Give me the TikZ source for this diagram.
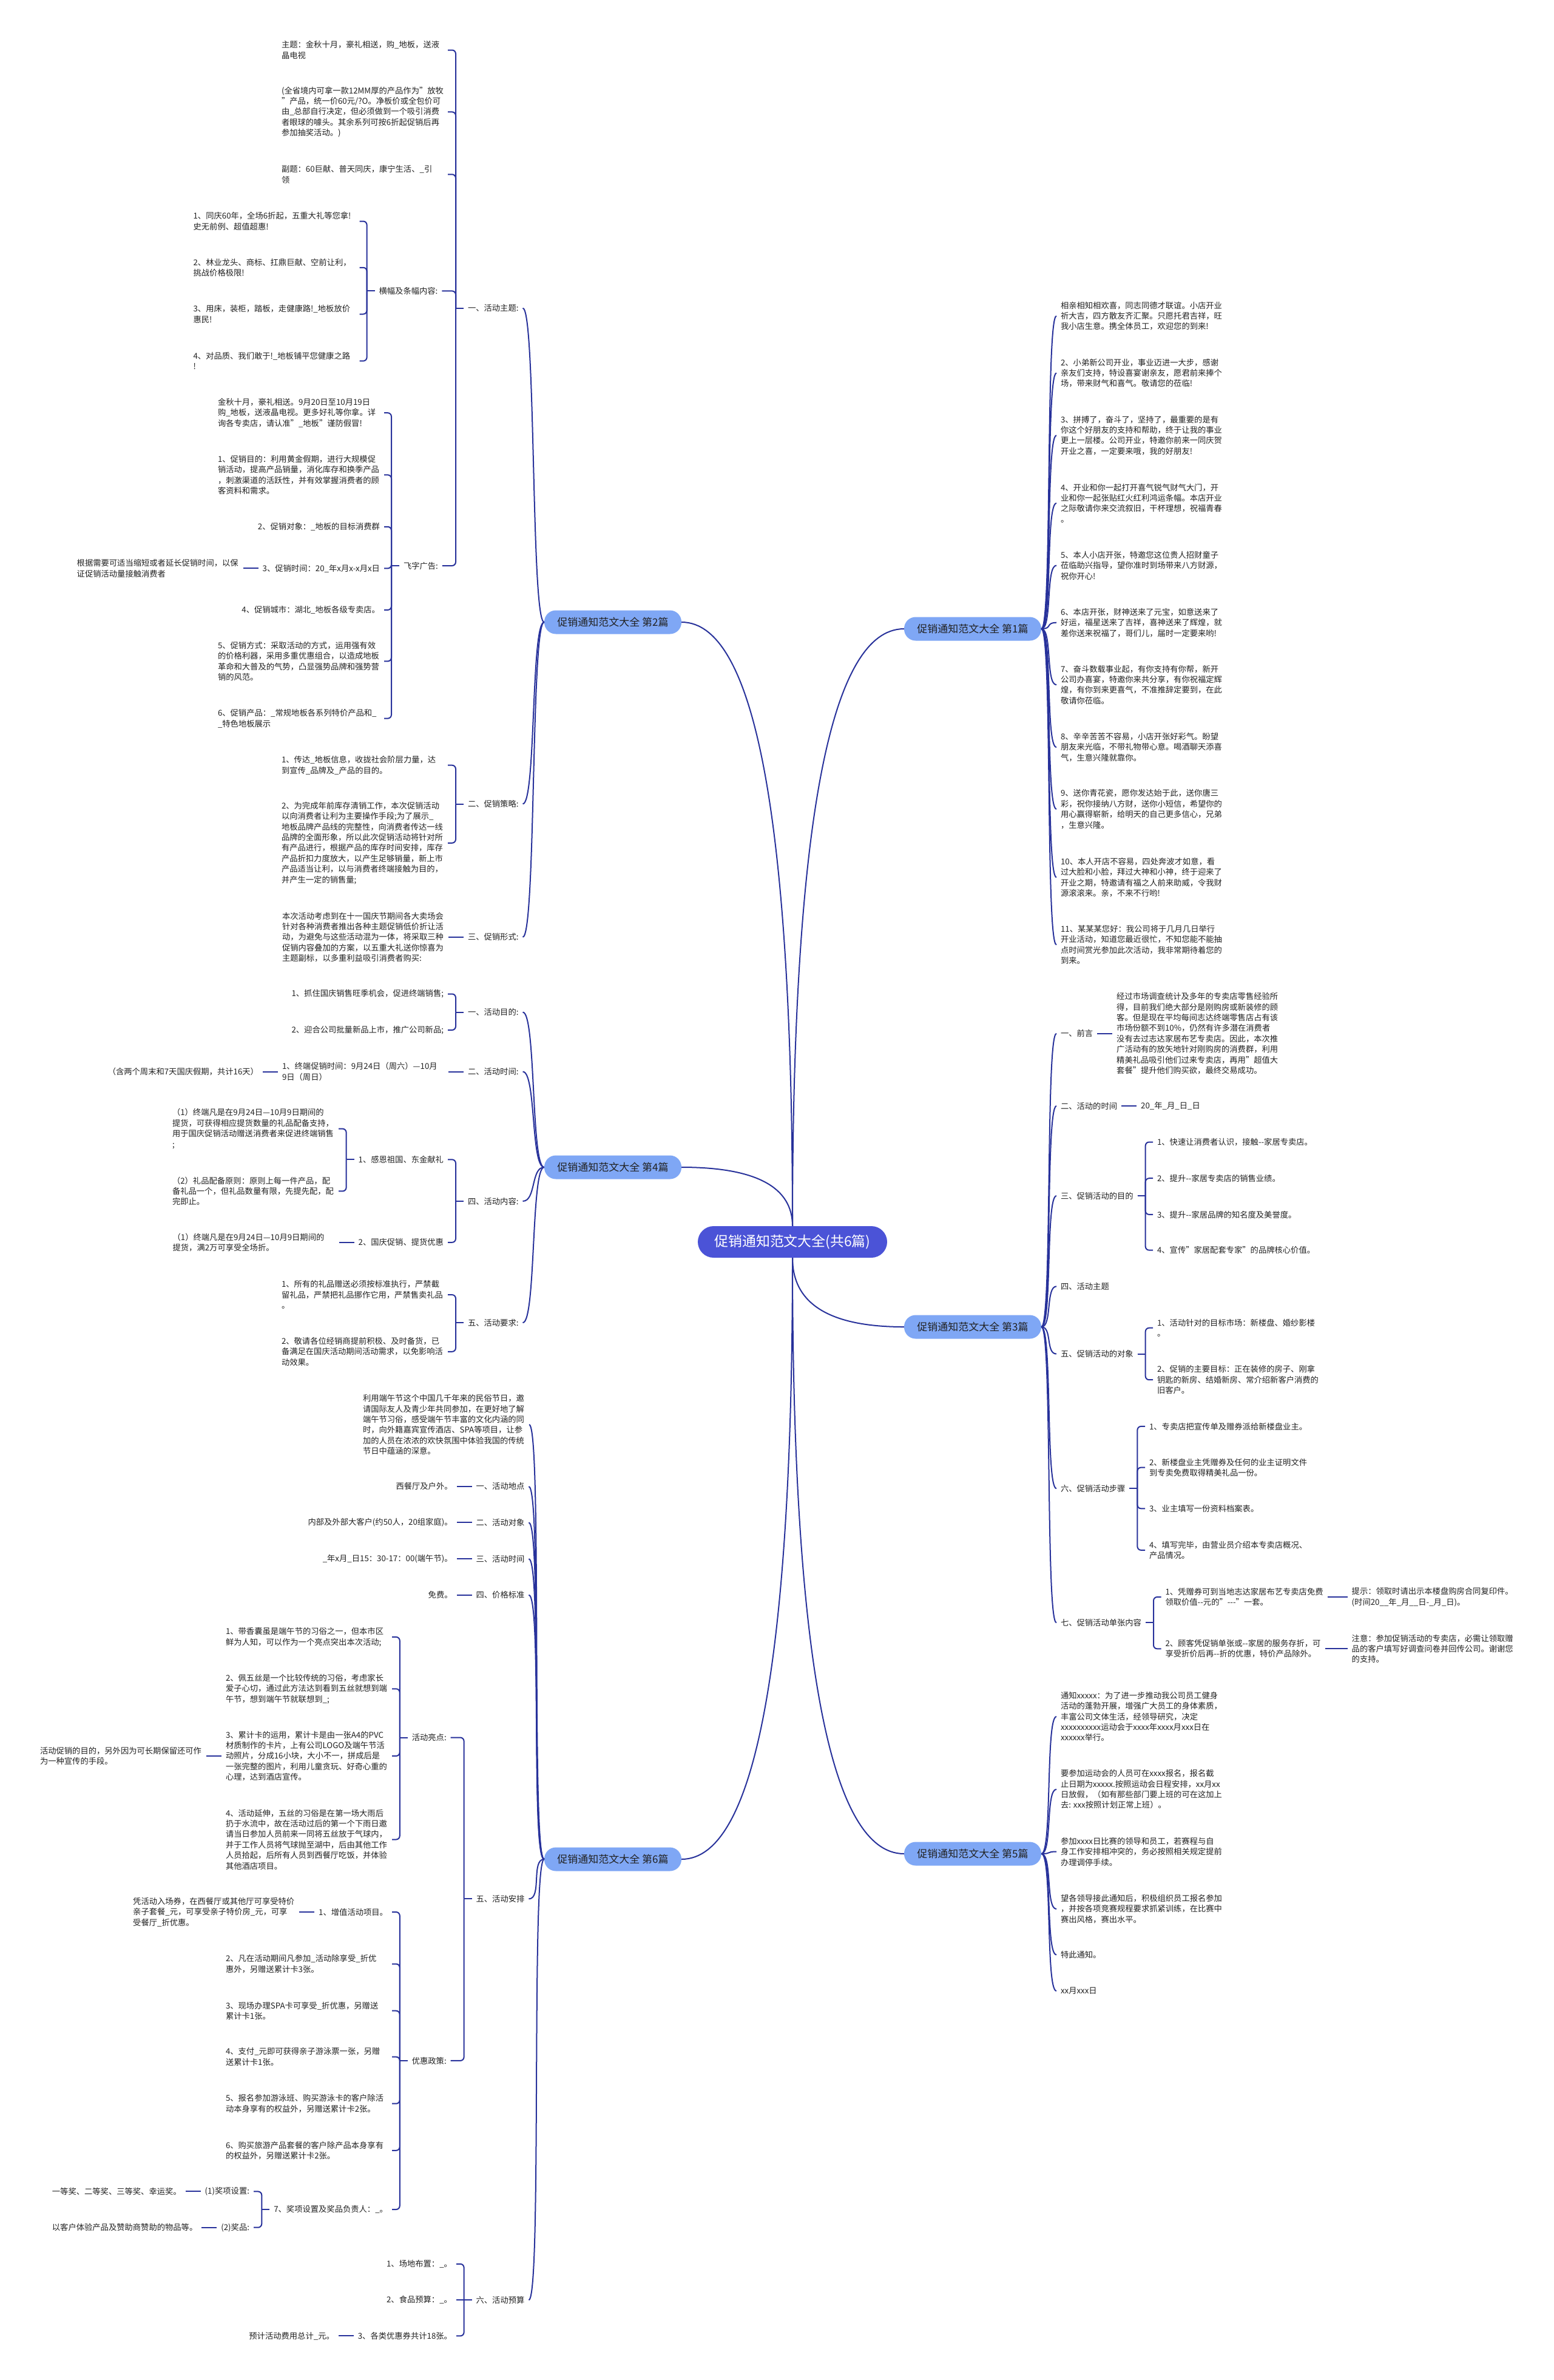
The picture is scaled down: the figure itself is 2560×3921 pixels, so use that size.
\documentclass[tikz,border=0pt]{standalone}
\usepackage{fontspec}
\setmainfont{Noto Sans CJK SC}
\usetikzlibrary{calc}
\definecolor{lnc}{HTML}{28329B}
\definecolor{rootc}{HTML}{4B53D7}
\definecolor{brc}{HTML}{7FA7F5}
\definecolor{txc}{HTML}{222222}
\tikzset{
  conn/.style={draw=lnc, line width=2pt},
  tx/.style={font=\fontsize{13.3pt}{17.4pt}\selectfont, text=txc, inner sep=0pt, outer xsep=7pt, outer ysep=0pt, align=left},
  txw/.style={tx, text width=267pt},
  rootn/.style={fill=rootc, text=white, rounded corners=26pt, minimum width=312pt, minimum height=52pt, inner sep=0pt, font=\fontsize{22.9pt}{27pt}\selectfont},
  brn/.style={fill=brc, text=txc, rounded corners=19pt, minimum width=226pt, minimum height=39pt, inner sep=0pt, font=\fontsize{17pt}{20pt}\selectfont}
}
\newcommand\lbk[2]{\draw[conn] (#1.west) -- ++(-13,0); \draw[conn,rounded corners=6pt] ([xshift=-13pt]#1.west) |- (#2.east);}
\newcommand\rbk[2]{\draw[conn] (#1.east) -- ++(13,0); \draw[conn,rounded corners=6pt] ([xshift=13pt]#1.east) |- (#2.west);}
\newcommand\lcv[2]{\draw[conn] (#1.west) .. controls +(-22,0) and +(22,0) .. (#2.east);}
\newcommand\rcv[2]{\draw[conn] (#1.east) .. controls +(18,0) and +(-18,0) .. (#2.west);}
\newcommand\lstr[2]{\draw[conn] (#1.west) -- (#2.east);}
\newcommand\rstr[2]{\draw[conn] (#1.east) -- (#2.west);}
\newcommand\ccv[2]{\coordinate (kk) at (#1 |- #2); \draw[conn] (#1) .. controls ($(#1)!0.667!(kk)$) and ($(#2)!0.667!(kk)$) .. (#2);}
\begin{document}
\begin{tikzpicture}[x=1pt,y=-1pt]
\fill[white] (0,0) rectangle (2560,3921);
\useasboundingbox (0,0) rectangle (2560,3921);

% root and branches
\node[rootn] (root) at (1306,2046) {促销通知范文大全(共6篇)};
\node[brn] (b2) at (1010,1025) {促销通知范文大全 第2篇};
\node[brn] (b4) at (1010,1923) {促销通知范文大全 第4篇};
\node[brn] (b6) at (1010,3063) {促销通知范文大全 第6篇};
\node[brn] (b1) at (1603,1036) {促销通知范文大全 第1篇};
\node[brn] (b3) at (1603,2186) {促销通知范文大全 第3篇};
\node[brn] (b5) at (1603,3054) {促销通知范文大全 第5篇};
\ccv{root.north}{b2.east}
\ccv{root.north}{b4.east}
\ccv{root.north}{b1.west}
\ccv{root.south}{b6.east}
\ccv{root.south}{b3.west}
\ccv{root.south}{b5.west}

% ================= B2 =================
\node[tx,anchor=west] (b2a) at (764,507.6) {一、活动主题:};
\node[txw,anchor=east] (b2a1) at (738,82.5) {主题：金秋十月，豪礼相送，购\_地板，送液\\晶电视};
\node[txw,anchor=east] (b2a2) at (738,184.4) {(全省境内可拿一款12MM厚的产品作为"放牧\\"产品，统一价60元/?O。净板价或全包价可\\由\_总部自行决定，但必须做到一个吸引消费\\者眼球的噱头。其余系列可按6折起促销后再\\参加抽奖活动。)};
\node[txw,anchor=east] (b2a3) at (738,287.3) {副题：60巨献、普天同庆，康宁生活、\_引\\领};
\node[tx,anchor=west] (b2a4) at (617.6,479.4) {横幅及条幅内容:};
\node[tx,anchor=west] (b2a5) at (658,932) {飞字广告:};
\lbk{b2a}{b2a1}\lbk{b2a}{b2a2}\lbk{b2a}{b2a3}\lbk{b2a}{b2a4}\lbk{b2a}{b2a5}
\node[txw,anchor=east] (h1) at (592.6,364.5) {1、同庆60年，全场6折起，五重大礼等您拿!\\史无前例、超值超惠!};
\node[txw,anchor=east] (h2) at (592.6,440.8) {2、林业龙头、商标、扛鼎巨献、空前让利，\\挑战价格极限!};
\node[txw,anchor=east] (h3) at (592.6,517.5) {3、用床，装柜，踏板，走健康路!\_地板放价\\惠民!};
\node[txw,anchor=east] (h4) at (592.6,594.7) {4、对品质、我们敢于!\_地板铺平您健康之路\\!};
\lbk{b2a4}{h1}\lbk{b2a4}{h2}\lbk{b2a4}{h3}\lbk{b2a4}{h4}
\node[txw,anchor=east] (f1) at (633,680.2) {金秋十月，豪礼相送。9月20日至10月19日\\购\_地板，送液晶电视。更多好礼等你拿。详\\询各专卖店，请认准"\_地板"谨防假冒!};
\node[txw,anchor=east] (f2) at (633,782.4) {1、促销目的：利用黄金假期，进行大规模促\\销活动，提高产品销量，消化库存和换季产品\\，刺激渠道的活跃性，并有效掌握消费者的顾\\客资料和需求。};
\node[tx,anchor=east] (f3) at (633,867.8) {2、促销对象：\_地板的目标消费群};
\node[tx,anchor=east] (f4) at (633,936.4) {3、促销时间：20\_年x月x-x月x日};
\node[tx,anchor=east] (f5) at (633,1004.9) {4、促销城市：湖北\_地板各级专卖店。};
\node[txw,anchor=east] (f6) at (633,1089.4) {5、促销方式：采取活动的方式，运用强有效\\的价格利器，采用多重优惠组合，以造成地板\\革命和大普及的气势，凸显强势品牌和强势营\\销的风范。};
\node[txw,anchor=east] (f7) at (633,1183.6) {6、促销产品：\_常规地板各系列特价产品和\_\\\_特色地板展示};
\lbk{b2a5}{f1}\lbk{b2a5}{f2}\lbk{b2a5}{f3}\lbk{b2a5}{f4}\lbk{b2a5}{f5}\lbk{b2a5}{f6}\lbk{b2a5}{f7}
\node[txw,anchor=east] (f4c) at ([xshift=-25pt]f4.west) {根据需要可适当缩短或者延长促销时间，以保\\证促销活动量接触消费者};
\lstr{f4}{f4c}
\node[tx,anchor=west] (b2b) at (764,1324.5) {二、促销策略:};
\node[txw,anchor=east] (b2b1) at (738,1260.7) {1、传达\_地板信息，收拢社会阶层力量，达\\到宣传\_品牌及\_产品的目的。};
\node[txw,anchor=east] (b2b2) at (738,1388.8) {2、为完成年前库存清销工作，本次促销活动\\以向消费者让利为主要操作手段;为了展示\_\\地板品牌产品线的完整性，向消费者传达一线\\品牌的全面形象，所以此次促销活动将针对所\\有产品进行，根据产品的库存时间安排，库存\\产品折扣力度放大，以产生足够销量，新上市\\产品适当让利，以与消费者终端接触为目的，\\并产生一定的销售量;};
\lbk{b2b}{b2b1}\lbk{b2b}{b2b2}
\node[tx,anchor=west] (b2c) at (764,1543.9) {三、促销形式:};
\node[txw,anchor=east] (b2c1) at ([xshift=-25pt]b2c.west) {本次活动考虑到在十一国庆节期间各大卖场会\\针对各种消费者推出各种主题促销低价折让活\\动，为避免与这些活动混为一体，将采取三种\\促销内容叠加的方案，以五重大礼送你惊喜为\\主题副标，以多重利益吸引消费者购买:};
\lstr{b2c}{b2c1}
\lcv{b2}{b2a}\lcv{b2}{b2b}\lcv{b2}{b2c}

% ================= B4 =================
\node[tx,anchor=west] (b4a) at (764,1667.5) {一、活动目的:};
\node[tx,anchor=east] (b4a1) at (738,1637.5) {1、抓住国庆销售旺季机会，促进终端销售;};
\node[tx,anchor=east] (b4a2) at (738,1697) {2、迎合公司批量新品上市，推广公司新品;};
\lbk{b4a}{b4a1}\lbk{b4a}{b4a2}
\node[tx,anchor=west] (b4b) at (764,1765.5) {二、活动时间:};
\node[txw,anchor=east] (b4b1) at ([xshift=-25pt]b4b.west) {1、终端促销时间：9月24日（周六）—10月\\9日（周日）};
\lstr{b4b}{b4b1}
\node[tx,anchor=east] (b4b2) at ([xshift=-25pt]b4b1.west) {（含两个周末和7天国庆假期，共计16天）};
\lstr{b4b1}{b4b2}
\node[tx,anchor=west] (b4c) at (764,1978.9) {四、活动内容:};
\node[tx,anchor=east] (b4c1) at (738,1910.3) {1、感恩祖国、东金献礼};
\node[tx,anchor=east] (b4c2) at (738,2046.8) {2、国庆促销、提货优惠};
\lbk{b4c}{b4c1}\lbk{b4c}{b4c2}
\node[txw,anchor=east] (g1) at (558,1859.6) {（1）终端凡是在9月24日—10月9日期间的\\提货，可获得相应提货数量的礼品配备支持，\\用于国庆促销活动赠送消费者来促进终端销售\\;};
\node[txw,anchor=east] (g2) at (558,1962.4) {（2）礼品配备原则：原则上每一件产品，配\\备礼品一个，但礼品数量有限，先提先配，配\\完即止。};
\lbk{b4c1}{g1}\lbk{b4c1}{g2}
\node[txw,anchor=east] (g3) at ([xshift=-25pt]b4c2.west) {（1）终端凡是在9月24日—10月9日期间的\\提货，满2万可享受全场折。};
\lstr{b4c2}{g3}
\node[tx,anchor=west] (b4d) at (764,2179.1) {五、活动要求:};
\node[txw,anchor=east] (b4d1) at (738,2133.1) {1、所有的礼品赠送必须按标准执行，严禁截\\留礼品，严禁把礼品挪作它用，严禁售卖礼品\\。};
\node[txw,anchor=east] (b4d2) at (738,2226.8) {2、敬请各位经销商提前积极、及时备货，已\\备满足在国庆活动期间活动需求，以免影响活\\动效果。};
\lbk{b4d}{b4d1}\lbk{b4d}{b4d2}
\lcv{b4}{b4a}\lcv{b4}{b4b}\lcv{b4}{b4c}\lcv{b4}{b4d}

% ================= B6 =================
\node[txw,anchor=east] (b6a) at (872,2347) {利用端午节这个中国几千年来的民俗节日，邀\\请国际友人及青少年共同参加，在更好地了解\\端午节习俗，感受端午节丰富的文化内涵的同\\时，向外籍嘉宾宣传酒店、SPA等项目，让参\\加的人员在浓浓的欢快氛围中体验我国的传统\\节日中蕴涵的深意。};
\node[tx,anchor=west] (b6b) at (777.6,2448.9) {一、活动地点};
\node[tx,anchor=east] (b6b1) at ([xshift=-25pt]b6b.west) {西餐厅及户外。};
\lstr{b6b}{b6b1}
\node[tx,anchor=west] (b6c) at (777.6,2508.3) {二、活动对象};
\node[tx,anchor=east] (b6c1) at ([xshift=-25pt]b6c.west) {内部及外部大客户(约50人，20组家庭)。};
\lstr{b6c}{b6c1}
\node[tx,anchor=west] (b6d) at (777.6,2568.1) {三、活动时间};
\node[tx,anchor=east] (b6d1) at ([xshift=-25pt]b6d.west) {\_年x月\_日15：30-17：00(端午节)。};
\lstr{b6d}{b6d1}
\node[tx,anchor=west] (b6e) at (777.6,2627.6) {四、价格标准};
\node[tx,anchor=east] (b6e1) at ([xshift=-25pt]b6e.west) {免费。};
\lstr{b6e}{b6e1}
\node[tx,anchor=west] (b6f) at (777.6,3128.4) {五、活动安排};
\node[tx,anchor=west] (hl) at (671.8,2862.5) {活动亮点:};
\node[tx,anchor=west] (yh) at (671.8,3394.9) {优惠政策:};
\lbk{b6f}{hl}\lbk{b6f}{yh}
\node[txw,anchor=east] (hl1) at (646,2696.9) {1、带香囊虽是端午节的习俗之一，但本市区\\鲜为人知，可以作为一个亮点突出本次活动;};
\node[txw,anchor=east] (hl2) at (646,2782.3) {2、佩五丝是一个比较传统的习俗，考虑家长\\爱子心切，通过此方法达到看到五丝就想到端\\午节，想到端午节就联想到\_;};
\node[txw,anchor=east] (hl3) at (646,2892.9) {3、累计卡的运用，累计卡是由一张A4的PVC\\材质制作的卡片，上有公司LOGO及端午节活\\动照片，分成16小块，大小不一，拼成后是\\一张完整的图片，利用儿童贪玩、好奇心重的\\心理，达到酒店宣传。};
\node[txw,anchor=east] (hl4) at (646,3030.5) {4、活动延伸，五丝的习俗是在第一场大雨后\\扔于水流中，故在活动过后的第一个下雨日邀\\请当日参加人员前来一同将五丝放于气球内，\\并于工作人员将气球抛至湖中，后由其他工作\\人员拾起，后所有人员到西餐厅吃饭，并体验\\其他酒店项目。};
\lbk{hl}{hl1}\lbk{hl}{hl2}\lbk{hl}{hl3}\lbk{hl}{hl4}
\node[txw,anchor=east] (hl3c) at ([xshift=-25pt]hl3.west) {活动促销的目的，另外因为可长期保留还可作\\为一种宣传的手段。};
\lstr{hl3}{hl3c}
\node[tx,anchor=east] (yh1) at (646,3150) {1、增值活动项目。};
\node[txw,anchor=east] (yh2) at (646,3235.5) {2、凡在活动期间凡参加\_活动除享受\_折优\\惠外，另赠送累计卡3张。};
\node[txw,anchor=east] (yh3) at (646,3312.7) {3、现场办理SPA卡可享受\_折优惠，另赠送\\累计卡1张。};
\node[txw,anchor=east] (yh4) at (646,3388.6) {4、支付\_元即可获得亲子游泳票一张，另赠\\送累计卡1张。};
\node[txw,anchor=east] (yh5) at (646,3465.7) {5、报名参加游泳班、购买游泳卡的客户除活\\动本身享有的权益外，另赠送累计卡2张。};
\node[txw,anchor=east] (yh6) at (646,3542.8) {6、购买旅游产品套餐的客户除产品本身享有\\的权益外，另赠送累计卡2张。};
\node[tx,anchor=east] (yh7) at (646,3640) {7、奖项设置及奖品负责人：\_。};
\lbk{yh}{yh1}\lbk{yh}{yh2}\lbk{yh}{yh3}\lbk{yh}{yh4}\lbk{yh}{yh5}\lbk{yh}{yh6}\lbk{yh}{yh7}
\node[txw,anchor=east] (yh1c) at ([xshift=-25pt]yh1.west) {凭活动入场券，在西餐厅或其他厅可享受特价\\亲子套餐\_元，可享受亲子特价房\_元，可享\\受餐厅\_折优惠。};
\lstr{yh1}{yh1c}
\node[tx,anchor=east] (jx1) at (418,3610.4) {(1)奖项设置:};
\node[tx,anchor=east] (jx2) at (418,3669.7) {(2)奖品:};
\lbk{yh7}{jx1}\lbk{yh7}{jx2}
\node[tx,anchor=east] (jx1c) at ([xshift=-25pt]jx1.west) {一等奖、二等奖、三等奖、幸运奖。};
\lstr{jx1}{jx1c}
\node[tx,anchor=east] (jx2c) at ([xshift=-25pt]jx2.west) {以客户体验产品及赞助商赞助的物品等。};
\lstr{jx2}{jx2c}
\node[tx,anchor=west] (b6g) at (777.6,3789.1) {六、活动预算};
\node[tx,anchor=east] (ys1) at (752,3729.8) {1、场地布置：\_。};
\node[tx,anchor=east] (ys2) at (752,3789.1) {2、食品预算：\_。};
\node[tx,anchor=east] (ys3) at (752,3848.4) {3、各类优惠券共计18张。};
\lbk{b6g}{ys1}\lstr{b6g}{ys2}\lbk{b6g}{ys3}
\node[tx,anchor=east] (ys3c) at ([xshift=-25pt]ys3.west) {预计活动费用总计\_元。};
\lstr{ys3}{ys3c}
\lcv{b6}{b6a}\lcv{b6}{b6b}\lcv{b6}{b6c}\lcv{b6}{b6d}\lcv{b6}{b6e}\lcv{b6}{b6f}\lcv{b6}{b6g}

% ================= B1 =================
\node[tx,anchor=west] (r1) at (1741,520.5) {相亲相知相欢喜，同志同德才联谊。小店开业\\祈大吉，四方散友齐汇聚。只愿托君吉祥，旺\\我小店生意。携全体员工，欢迎您的到来!};
\node[tx,anchor=west] (r2) at (1741,614.5) {2、小弟新公司开业，事业迈进一大步，感谢\\亲友们支持，特设喜宴谢亲友，愿君前来捧个\\场，带来财气和喜气。敬请您的莅临!};
\node[tx,anchor=west] (r3) at (1741,717.3) {3、拼搏了，奋斗了，坚持了，最重要的是有\\你这个好朋友的支持和帮助，终于让我的事业\\更上一层楼。公司开业，特邀你前来一同庆贺\\开业之喜，一定要来哦，我的好朋友!};
\node[tx,anchor=west] (r4) at (1741,829) {4、开业和你一起打开喜气锐气财气大门，开\\业和你一起张贴红火红利鸿运条幅。本店开业\\之际敬请你来交流叙旧，干杯理想，祝福青春\\。};
\node[tx,anchor=west] (r5) at (1741,931.5) {5、本人小店开张，特邀您这位贵人招财童子\\莅临助兴指导，望你准时到场带来八方财源，\\祝你开心!};
\node[tx,anchor=west] (r6) at (1741,1025.7) {6、本店开张，财神送来了元宝，如意送来了\\好运，福星送来了吉祥，喜神送来了辉煌，就\\差你送来祝福了，哥们儿，届时一定要来哟!};
\node[tx,anchor=west] (r7) at (1741,1128.2) {7、奋斗数载事业起，有你支持有你帮，新开\\公司办喜宴，特邀你来共分享，有你祝福定辉\\煌，有你到来更喜气，不准推辞定要到，在此\\敬请你莅临。};
\node[tx,anchor=west] (r8) at (1741,1231) {8、辛辛苦苦不容易，小店开张好彩气。盼望\\朋友来光临，不带礼物带心意。喝酒聊天添喜\\气，生意兴隆就靠你。};
\node[tx,anchor=west] (r9) at (1741,1333) {9、送你青花瓷，愿你发达始于此，送你唐三\\彩，祝你接纳八方财，送你小短信，希望你的\\用心赢得崭新，给明天的自己更多信心，兄弟\\，生意兴隆。};
\node[tx,anchor=west] (r10) at (1741,1445.5) {10、本人开店不容易，四处奔波才如意，看\\过大脸和小脸，拜过大神和小神，终于迎来了\\开业之期，特邀请有福之人前来助威，令我财\\源滚滚来。亲，不来不行哟!};
\node[tx,anchor=west] (r11) at (1741,1556.5) {11、某某某您好：我公司将于几月几日举行\\开业活动，知道您最近很忙，不知您能不能抽\\点时间赏光参加此次活动，我非常期待着您的\\到来。};
\rcv{b1}{r1}\rcv{b1}{r2}\rcv{b1}{r3}\rcv{b1}{r4}\rcv{b1}{r5}\rcv{b1}{r6}\rcv{b1}{r7}\rcv{b1}{r8}\rcv{b1}{r9}\rcv{b1}{r10}\rcv{b1}{r11}

% ================= B3 =================
\node[tx,anchor=west] (s1) at (1741,1702.7) {一、前言};
\node[tx,anchor=west] (s1c) at ([xshift=25pt]s1.east) {经过市场调查统计及多年的专卖店零售经验所\\得，目前我们绝大部分是刚购房或新装修的顾\\客。但是现在平均每间志达终端零售店占有该\\市场份额不到10\%，仍然有许多潜在消费者\\没有去过志达家居布艺专卖店。因此，本次推\\广活动有的放矢地针对刚购房的消费群，利用\\精美礼品吸引他们过来专卖店，再用"超值大\\套餐"提升他们购买欲，最终交易成功。};
\rstr{s1}{s1c}
\node[tx,anchor=west] (s2) at (1741,1822) {二、活动的时间};
\node[tx,anchor=west] (s2c) at ([xshift=25pt]s2.east) {20\_年\_月\_日\_日};
\rstr{s2}{s2c}
\node[tx,anchor=west] (s3) at (1741,1970.1) {三、促销活动的目的};
\node[tx,anchor=west] (s31) at (1900,1881.5) {1、快速让消费者认识，接触-{}-家居专卖店。};
\node[tx,anchor=west] (s32) at (1900,1941.2) {2、提升-{}-家居专卖店的销售业绩。};
\node[tx,anchor=west] (s33) at (1900,2000.9) {3、提升-{}-家居品牌的知名度及美誉度。};
\node[tx,anchor=west] (s34) at (1900,2059.6) {4、宣传"家居配套专家"的品牌核心价值。};
\rbk{s3}{s31}\rbk{s3}{s32}\rbk{s3}{s33}\rbk{s3}{s34}
\node[tx,anchor=west] (s4) at (1741,2119.3) {四、活动主题};
\node[tx,anchor=west] (s5) at (1741,2230.5) {五、促销活动的对象};
\node[tx,anchor=west] (s51) at (1900,2187.7) {1、活动针对的目标市场：新楼盘、婚纱影楼\\。};
\node[tx,anchor=west] (s52) at (1900,2273.2) {2、促销的主要目标：正在装修的房子、刚拿\\钥匙的新房、结婚新房、常介绍新客户消费的\\旧客户。};
\rbk{s5}{s51}\rbk{s5}{s52}
\node[tx,anchor=west] (s6) at (1741,2452.3) {六、促销活动步骤};
\node[tx,anchor=west] (s61) at (1887,2349.9) {1、专卖店把宣传单及赠券派给新楼盘业主。};
\node[tx,anchor=west] (s62) at (1887,2417.6) {2、新楼盘业主凭赠券及任何的业主证明文件\\到专卖免费取得精美礼品一份。};
\node[tx,anchor=west] (s63) at (1887,2485.3) {3、业主填写一份资料档案表。};
\node[tx,anchor=west] (s64) at (1887,2553.8) {4、填写完毕，由营业员介绍本专卖店概况、\\产品情况。};
\rbk{s6}{s61}\rbk{s6}{s62}\rbk{s6}{s63}\rbk{s6}{s64}
\node[tx,anchor=west] (s7) at (1741,2673.4) {七、促销活动单张内容};
\node[tx,anchor=west] (s71) at (1913.5,2631) {1、凭赠券可到当地志达家居布艺专卖店免费\\领取价值-{}-元的"-{}-{}-"一套。};
\node[tx,anchor=west] (s72) at (1913.5,2716.3) {2、顾客凭促销单张或-{}-家居的服务存折，可\\享受折价后再-{}-折的优惠，特价产品除外。};
\rbk{s7}{s71}\rbk{s7}{s72}
\node[tx,anchor=west] (s71c) at (2220.7,2631) {提示：领取时请出示本楼盘购房合同复印件。\\(时间20\_\_年\_月\_\_日-\_月\_日)。};
\node[tx,anchor=west] (s72c) at (2220.7,2716.3) {注意：参加促销活动的专卖店，必需让领取赠\\品的客户填写好调查问卷并回传公司。谢谢您\\的支持。};
\rstr{s71}{s71c}\rstr{s72}{s72c}
\rcv{b3}{s1}\rcv{b3}{s2}\rcv{b3}{s3}\rcv{b3}{s4}\rcv{b3}{s5}\rcv{b3}{s6}\rcv{b3}{s7}

% ================= B5 =================
\node[tx,anchor=west] (t1) at (1741,2828) {通知xxxxx：为了进一步推动我公司员工健身\\活动的蓬勃开展，增强广大员工的身体素质，\\丰富公司文体生活，经领导研究，决定\\xxxxxxxxxx运动会于xxxx年xxxx月xxx日在\\xxxxxx举行。};
\node[tx,anchor=west] (t2) at (1741,2947.8) {要参加运动会的人员可在xxxx报名，报名截\\止日期为xxxxx.按照运动会日程安排，xx月xx\\日放假，（如有那些部门要上班的可在这加上\\去: xxx按照计划正常上班）。};
\node[tx,anchor=west] (t3) at (1741,3050.5) {参加xxxx日比赛的领导和员工，若赛程与自\\身工作安排相冲突的，务必按照相关规定提前\\办理调停手续。};
\node[tx,anchor=west] (t4) at (1741,3145) {望各领导接此通知后，积极组织员工报名参加\\，并按各项竞赛规程要求抓紧训练，在比赛中\\赛出风格，赛出水平。};
\node[tx,anchor=west] (t5) at (1741,3220.4) {特此通知。};
\node[tx,anchor=west] (t6) at (1741,3280) {xx月xxx日};
\rcv{b5}{t1}\rcv{b5}{t2}\rcv{b5}{t3}\rcv{b5}{t4}\rcv{b5}{t5}\rcv{b5}{t6}
\end{tikzpicture}
\end{document}
